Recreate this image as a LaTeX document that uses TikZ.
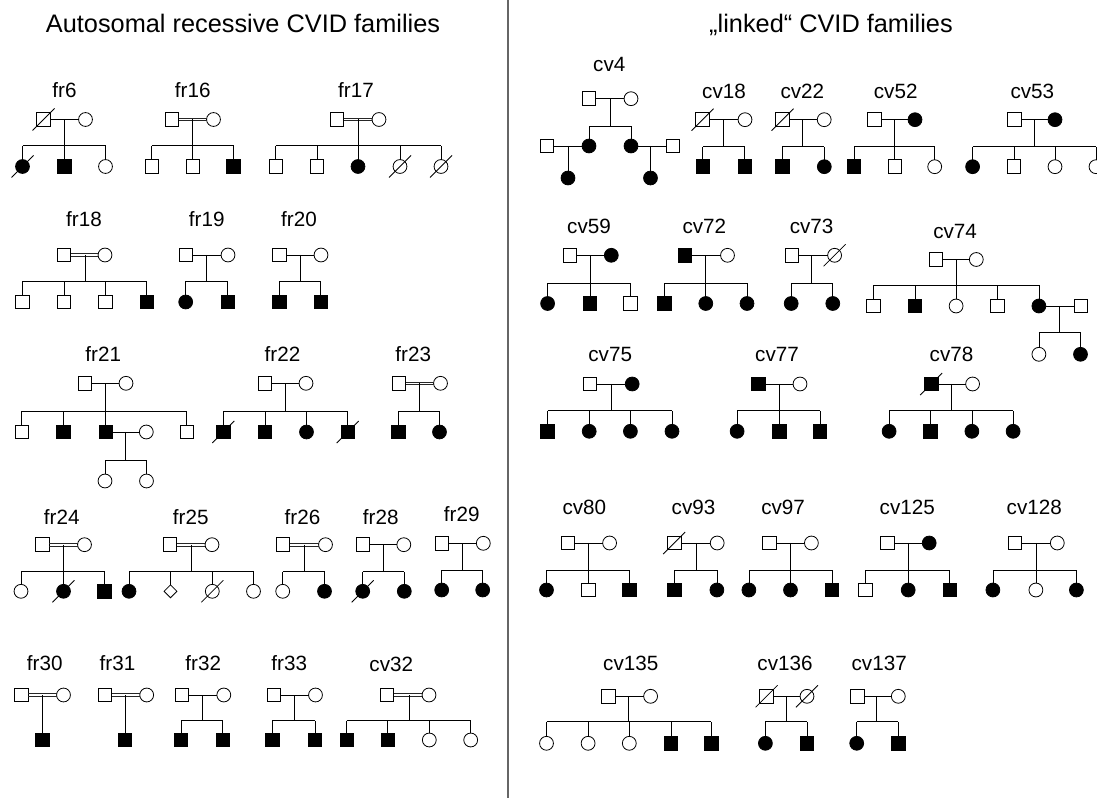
\documentclass[tikz,border=0pt]{standalone}
\usepackage{fontspec}
\setmainfont{Liberation Sans}
\usetikzlibrary{shapes.geometric}
\newcommand\labfont{\fontsize{15.5}{18}\selectfont}
\newcommand\ttlfont{\fontsize{19}{23}\selectfont}
\tikzset{
  sym/.style={draw=black, line width=0.6pt, inner sep=0pt, outer sep=0pt},
  M/.style={sym, rectangle, minimum size=10.2pt},
  MA/.style={M, fill=black},
  F/.style={sym, circle, minimum size=10.4pt},
  FA/.style={F, fill=black},
  U/.style={sym, diamond, minimum size=9.6pt},
  rel/.style={draw=black, line width=0.6pt},
  consline/.style={draw=black!85, line width=0.6pt},
  decl/.style={draw=black, line width=0.6pt},
  lab/.style={font=\labfont, anchor=base, inner sep=0pt},
  ttl/.style={font=\ttlfont, anchor=base, inner sep=0pt},
  divider/.style={draw=black!60, line width=1pt}
}
% marriage lines: single and consanguineous (double)
\newcommand\pmarryrel[1]{\draw[rel] (#1f) -- (#1m);}
\newcommand\pmarrycons[1]{%
  \draw[consline] ([yshift=1pt]#1f.east) -- ([yshift=1pt]#1m.west);
  \draw[consline] ([yshift=-1pt]#1f.east) -- ([yshift=-1pt]#1m.west);
}
% #1 id, #2 father style, #3 father x, #4 mother style, #5 mother x, #6 y, #7 rel|cons, #8 descent x
\newcommand\pcouple[8]{%
  \node[#2] (#1f) at (#3,#6) {};
  \node[#4] (#1m) at (#5,#6) {};
  \coordinate (#1d) at (#8,#6);
  \csname pmarry#7\endcsname{#1}%
}
% #1 id, #2 descent x, #3 sibship y
\newcommand\psibs[3]{%
  \coordinate (#1s) at (#2,#3);
  \draw[rel] (#1d) -- (#1s);
}
% #1 id, #2 number, #3 style, #4 x, #5 y
\newcommand\pkid[5]{%
  \node[#3] (#1c#2) at (#4,#5) {};
  \draw[rel] (#1c#2) -- (#1c#2 |- #1s);
}
\newcommand\pline[3]{\draw[rel] (#1c#2 |- #1s) -- (#1c#3 |- #1s);}
\newcommand\pdead[1]{\draw[decl] (#1.center) ++(-11,11) -- ++(22,-22);}
\begin{document}
\begin{tikzpicture}[x=0.75pt, y=-0.75pt]
\path[use as bounding box, fill=white] (0,0) rectangle (1097,798);
\clip (0,0) rectangle (1097,798);

% titles and divider
\node[ttl] (t1) at (243,32.3) {Autosomal recessive CVID families};
\node[ttl] (t2) at (831,32.3) {„linked“ CVID families};
\coordinate (dv1) at (508,0);
\coordinate (dv2) at (508,798);
\draw[divider] (dv1) -- (dv2);

% ================= LEFT =================
% ---- row 1
\node[lab] (fr6l) at (64.5,98) {fr6};
\pcouple{fr6}{M}{43.5}{F}{85.5}{119.5}{rel}{64.3}
\pdead{fr6f}
\psibs{fr6}{64.3}{145.7}
\pkid{fr6}{1}{FA}{22.5}{166.5}\pdead{fr6c1}
\pkid{fr6}{2}{MA}{64.3}{166.5}
\pkid{fr6}{3}{F}{105.5}{166.5}
\pline{fr6}{1}{3}

\node[lab] (fr16l) at (192.8,98) {fr16};
\pcouple{fr16}{M}{172}{F}{213.5}{119.5}{cons}{192.7}
\psibs{fr16}{192.7}{145.7}
\pkid{fr16}{1}{M}{151.7}{166.5}
\pkid{fr16}{2}{M}{192.7}{166.5}
\pkid{fr16}{3}{MA}{233.5}{166.5}
\pline{fr16}{1}{3}

\node[lab] (fr17l) at (356,98) {fr17};
\pcouple{fr17}{M}{337}{F}{379}{119.5}{cons}{358}
\psibs{fr17}{358}{145.7}
\pkid{fr17}{1}{M}{275.7}{166.5}
\pkid{fr17}{2}{M}{317}{166.5}
\pkid{fr17}{3}{FA}{358}{166.5}
\pkid{fr17}{4}{F}{400}{166.5}\pdead{fr17c4}
\pkid{fr17}{5}{F}{441}{166.5}\pdead{fr17c5}
\pline{fr17}{1}{5}

% ---- row 2
\node[lab] (fr18l) at (84,227) {fr18};
\pcouple{fr18}{M}{64}{F}{105}{255}{cons}{85}
\psibs{fr18}{85}{281}
\pkid{fr18}{1}{M}{22.5}{302}
\pkid{fr18}{2}{M}{64}{302}
\pkid{fr18}{3}{M}{105.5}{302}
\pkid{fr18}{4}{MA}{146.7}{302}
\pline{fr18}{1}{4}

\node[lab] (fr19l) at (206.7,227) {fr19};
\pcouple{fr19}{M}{186}{F}{228}{255}{rel}{206.7}
\psibs{fr19}{206.7}{281}
\pkid{fr19}{1}{FA}{185.7}{302}
\pkid{fr19}{2}{MA}{227.7}{302}
\pline{fr19}{1}{2}

\node[lab] (fr20l) at (299,227) {fr20};
\pcouple{fr20}{M}{279.5}{F}{321}{255}{rel}{300}
\psibs{fr20}{300}{281}
\pkid{fr20}{1}{MA}{279.5}{302}
\pkid{fr20}{2}{MA}{320.7}{302}
\pline{fr20}{1}{2}

% ---- row 3
\node[lab] (fr21l) at (103.3,361.7) {fr21};
\pcouple{fr21}{M}{84.7}{F}{126}{383.3}{rel}{105.7}
\psibs{fr21}{105.7}{411}
\pkid{fr21}{1}{M}{21.7}{432}
\pkid{fr21}{2}{MA}{63.3}{432}
\pkid{fr21}{3}{MA}{105.7}{432}
\pkid{fr21}{4}{M}{186.7}{432}
\pline{fr21}{1}{4}
\node[F] (fr21w) at (146.3,432) {};
\draw[rel] (fr21c3) -- (fr21w);
\coordinate (fr21gd) at (125.5,432);
\psibs{fr21g}{125.5}{460}
\pkid{fr21g}{1}{F}{105}{481}
\pkid{fr21g}{2}{F}{146.5}{481}
\pline{fr21g}{1}{2}

\node[lab] (fr22l) at (282.5,361.7) {fr22};
\pcouple{fr22}{M}{265}{F}{306}{383.3}{rel}{285.7}
\psibs{fr22}{285.7}{411}
\pkid{fr22}{1}{MA}{223.3}{432}\pdead{fr22c1}
\pkid{fr22}{2}{MA}{265}{432}
\pkid{fr22}{3}{FA}{306.5}{432}
\pkid{fr22}{4}{MA}{347.7}{432}\pdead{fr22c4}
\pline{fr22}{1}{4}

\node[lab] (fr23l) at (413.3,361.7) {fr23};
\pcouple{fr23}{M}{399}{F}{440.5}{383.3}{cons}{419.5}
\psibs{fr23}{419.5}{411}
\pkid{fr23}{1}{MA}{398.5}{432}
\pkid{fr23}{2}{FA}{439.5}{432}
\pline{fr23}{1}{2}

% ---- row 4
\node[lab] (fr24l) at (61.7,524.3) {fr24};
\pcouple{fr24}{M}{42.5}{F}{84.5}{544.7}{cons}{63.5}
\psibs{fr24}{63.5}{571.7}
\pkid{fr24}{1}{F}{21}{591.3}
\pkid{fr24}{2}{FA}{63.5}{591.3}\pdead{fr24c2}
\pkid{fr24}{3}{MA}{104.5}{591.3}
\pline{fr24}{1}{3}

\node[lab] (fr25l) at (190.8,524.3) {fr25};
\pcouple{fr25}{M}{170}{F}{212}{544.7}{cons}{191}
\psibs{fr25}{191}{571.7}
\pkid{fr25}{1}{FA}{129}{591.3}
\pkid{fr25}{2}{U}{170.5}{591.3}
\pkid{fr25}{3}{F}{212.3}{591.3}\pdead{fr25c3}
\pkid{fr25}{4}{F}{253.5}{591.3}
\pline{fr25}{1}{4}

\node[lab] (fr26l) at (302.5,524.3) {fr26};
\pcouple{fr26}{M}{283}{F}{325.5}{544.7}{cons}{304}
\psibs{fr26}{304}{571.7}
\pkid{fr26}{1}{F}{282.7}{591.3}
\pkid{fr26}{2}{FA}{324.5}{591.3}
\pline{fr26}{1}{2}

\node[lab] (fr28l) at (380.8,524.3) {fr28};
\pcouple{fr28}{M}{362.8}{F}{403.8}{544.7}{rel}{383.3}
\psibs{fr28}{383.3}{571.7}
\pkid{fr28}{1}{FA}{362.7}{591.3}\pdead{fr28c1}
\pkid{fr28}{2}{FA}{404.3}{591.3}
\pline{fr28}{1}{2}

\node[lab] (fr29l) at (461.7,521.7) {fr29};
\pcouple{fr29}{M}{441.7}{F}{483.3}{543.3}{rel}{462.3}
\psibs{fr29}{462.3}{570}
\pkid{fr29}{1}{FA}{441.7}{590}
\pkid{fr29}{2}{FA}{482.7}{590}
\pline{fr29}{1}{2}

% ---- row 5
\node[lab] (fr30l) at (44.7,670.7) {fr30};
\pcouple{fr30}{M}{21.3}{F}{63.5}{695}{cons}{42.3}
\node[MA] (fr30c1) at (42.3,740) {};
\draw[rel] (fr30d) -- (fr30c1);

\node[lab] (fr31l) at (117.5,670.7) {fr31};
\pcouple{fr31}{M}{104.7}{F}{146.7}{695}{cons}{125}
\node[MA] (fr31c1) at (125,740) {};
\draw[rel] (fr31d) -- (fr31c1);

\node[lab] (fr32l) at (203.3,670.7) {fr32};
\pcouple{fr32}{M}{182}{F}{223.8}{695}{rel}{202.5}
\psibs{fr32}{202.5}{720.7}
\pkid{fr32}{1}{MA}{181}{740}
\pkid{fr32}{2}{MA}{222.7}{740}
\pline{fr32}{1}{2}

\node[lab] (fr33l) at (289.2,670.7) {fr33};
\pcouple{fr33}{M}{273.8}{F}{315.5}{695}{rel}{294}
\psibs{fr33}{294}{720.7}
\pkid{fr33}{1}{MA}{272.3}{740}
\pkid{fr33}{2}{MA}{315}{740}
\pline{fr33}{1}{2}

\node[lab] (cv32l) at (391.3,671.7) {cv32};
\pcouple{cv32}{M}{387}{F}{429}{695}{cons}{409}
\psibs{cv32}{409}{720.7}
\pkid{cv32}{1}{MA}{346.7}{740}
\pkid{cv32}{2}{MA}{387.7}{740}
\pkid{cv32}{3}{F}{429.3}{740}
\pkid{cv32}{4}{F}{470.7}{740}
\pline{cv32}{1}{4}

% ================= RIGHT =================
% ---- row 1
\node[lab] (cv4l) at (609.3,71.7) {cv4};
\pcouple{cv4}{M}{589}{F}{631}{98.7}{rel}{610}
\psibs{cv4}{610}{126}
\pkid{cv4}{1}{FA}{589}{146}
\pkid{cv4}{2}{FA}{631}{146}
\pline{cv4}{1}{2}
\node[M] (cv4w1) at (547,146) {};
\draw[rel] (cv4w1) -- (cv4c1);
\coordinate (cv4g1) at (568,146);
\node[FA] (cv4k1) at (568,178) {};
\draw[rel] (cv4g1) -- (cv4k1);
\node[M] (cv4w2) at (673,146) {};
\draw[rel] (cv4c2) -- (cv4w2);
\coordinate (cv4g2) at (650.5,146);
\node[FA] (cv4k2) at (650.5,178) {};
\draw[rel] (cv4g2) -- (cv4k2);

\node[lab] (cv18l) at (724,98.3) {cv18};
\pcouple{cv18}{M}{702.5}{F}{745}{119.7}{rel}{723.7}
\pdead{cv18f}
\psibs{cv18}{723.7}{146.7}
\pkid{cv18}{1}{MA}{702.8}{166.7}
\pkid{cv18}{2}{MA}{744.7}{166.7}
\pline{cv18}{1}{2}

\node[lab] (cv22l) at (802.4,98.3) {cv22};
\pcouple{cv22}{M}{782.5}{F}{824.2}{119.7}{rel}{802.6}
\pdead{cv22f}
\psibs{cv22}{802.6}{146.7}
\pkid{cv22}{1}{MA}{782.2}{166.7}
\pkid{cv22}{2}{FA}{824.3}{166.7}
\pline{cv22}{1}{2}

\node[lab] (cv52l) at (895.7,98.3) {cv52};
\pcouple{cv52}{M}{874.5}{FA}{915}{119.7}{rel}{894.7}
\psibs{cv52}{894.7}{146.7}
\pkid{cv52}{1}{MA}{854}{166.7}
\pkid{cv52}{2}{M}{894.7}{166.7}
\pkid{cv52}{3}{F}{934.7}{166.7}
\pline{cv52}{1}{3}

\node[lab] (cv53l) at (1032.4,98.3) {cv53};
\pcouple{cv53}{M}{1014.5}{FA}{1055}{119.7}{rel}{1034.5}
\psibs{cv53}{1034.5}{146.7}
\pkid{cv53}{1}{FA}{972.6}{166.7}
\pkid{cv53}{2}{M}{1014}{166.7}
\pkid{cv53}{3}{F}{1055}{166.7}
\pkid{cv53}{4}{F}{1096}{166.7}
\pline{cv53}{1}{4}

% ---- row 2
\node[lab] (cv59l) at (589,233.3) {cv59};
\pcouple{cv59}{M}{569.7}{FA}{611.3}{255.3}{rel}{590}
\psibs{cv59}{590}{283.3}
\pkid{cv59}{1}{FA}{547.6}{303.5}
\pkid{cv59}{2}{MA}{590}{303.5}
\pkid{cv59}{3}{M}{630.4}{303.5}
\pline{cv59}{1}{3}

\node[lab] (cv72l) at (704.4,233.3) {cv72};
\pcouple{cv72}{MA}{684.9}{F}{727.5}{255.3}{rel}{705.8}
\psibs{cv72}{705.8}{283.3}
\pkid{cv72}{1}{MA}{664.3}{303.5}
\pkid{cv72}{2}{FA}{705.8}{303.5}
\pkid{cv72}{3}{FA}{747}{303.5}
\pline{cv72}{1}{3}

\node[lab] (cv73l) at (811.6,233.3) {cv73};
\pcouple{cv73}{M}{791.9}{F}{834.6}{255.3}{rel}{811.8}
\pdead{cv73m}
\psibs{cv73}{811.8}{283.3}
\pkid{cv73}{1}{FA}{791.2}{303.5}
\pkid{cv73}{2}{FA}{832.8}{303.5}
\pline{cv73}{1}{2}

\node[lab] (cv74l) at (955.1,238.3) {cv74};
\pcouple{cv74}{M}{935.8}{F}{976.3}{259.5}{rel}{956.1}
\psibs{cv74}{956.1}{285}
\pkid{cv74}{1}{M}{873.3}{306}
\pkid{cv74}{2}{MA}{914.9}{306}
\pkid{cv74}{3}{F}{956.1}{306}
\pkid{cv74}{4}{M}{997.6}{306}
\pkid{cv74}{5}{FA}{1038.9}{306}
\pline{cv74}{1}{5}
\node[M] (cv74w) at (1081,306) {};
\draw[rel] (cv74c5) -- (cv74w);
\coordinate (cv74gd) at (1059.8,306);
\psibs{cv74g}{1059.8}{332.7}
\pkid{cv74g}{1}{F}{1038.9}{354.3}
\pkid{cv74g}{2}{FA}{1080.5}{354.3}
\pline{cv74g}{1}{2}

% ---- row 3
\node[lab] (cv75l) at (610.2,361.7) {cv75};
\pcouple{cv75}{M}{589.9}{FA}{632.2}{384}{rel}{610.9}
\psibs{cv75}{610.9}{410.7}
\pkid{cv75}{1}{MA}{547.6}{431.3}
\pkid{cv75}{2}{FA}{589.2}{431.3}
\pkid{cv75}{3}{FA}{630.4}{431.3}
\pkid{cv75}{4}{FA}{672}{431.3}
\pline{cv75}{1}{4}

\node[lab] (cv77l) at (777,361.7) {cv77};
\pcouple{cv77}{MA}{758.3}{F}{800}{384}{rel}{779.4}
\psibs{cv77}{779.4}{410.7}
\pkid{cv77}{1}{FA}{737.1}{431.3}
\pkid{cv77}{2}{MA}{779.4}{431.3}
\pkid{cv77}{3}{MA}{819.9}{431.3}
\pline{cv77}{1}{3}

\node[lab] (cv78l) at (951.5,361.7) {cv78};
\pcouple{cv78}{MA}{931.2}{F}{972.6}{384}{rel}{951.6}
\pdead{cv78f}
\psibs{cv78}{951.6}{410.7}
\pkid{cv78}{1}{FA}{889.1}{431.3}
\pkid{cv78}{2}{MA}{930.3}{431.3}
\pkid{cv78}{3}{FA}{971.9}{431.3}
\pkid{cv78}{4}{FA}{1013.1}{431.3}
\pline{cv78}{1}{4}

% ---- row 4
\node[lab] (cv80l) at (584.4,515) {cv80};
\pcouple{cv80}{M}{567.8}{F}{609.6}{543}{rel}{588.1}
\psibs{cv80}{588.1}{570}
\pkid{cv80}{1}{FA}{546.5}{590}
\pkid{cv80}{2}{M}{588.1}{590}
\pkid{cv80}{3}{MA}{629.3}{590}
\pline{cv80}{1}{3}

\node[lab] (cv93l) at (693.5,515) {cv93};
\pcouple{cv93}{M}{674.2}{F}{717.2}{543}{rel}{695.9}
\pdead{cv93f}
\psibs{cv93}{695.9}{570}
\pkid{cv93}{1}{MA}{674.6}{590}
\pkid{cv93}{2}{FA}{716.9}{590}
\pline{cv93}{1}{2}

\node[lab] (cv97l) at (783.1,515) {cv97};
\pcouple{cv97}{M}{769.5}{F}{811.4}{543}{rel}{790.5}
\psibs{cv97}{790.5}{570}
\pkid{cv97}{1}{FA}{748.9}{590}
\pkid{cv97}{2}{FA}{790.5}{590}
\pkid{cv97}{3}{MA}{832}{590}
\pline{cv97}{1}{3}

\node[lab] (cv125l) at (907.3,515) {cv125};
\pcouple{cv125}{M}{887.3}{FA}{929.2}{543}{rel}{908.2}
\psibs{cv125}{908.2}{570}
\pkid{cv125}{1}{M}{865.2}{590}
\pkid{cv125}{2}{FA}{908.2}{590}
\pkid{cv125}{3}{MA}{949.8}{590}
\pline{cv125}{1}{3}

\node[lab] (cv128l) at (1034.3,515) {cv128};
\pcouple{cv128}{M}{1014.9}{F}{1057.3}{543}{rel}{1035.9}
\psibs{cv128}{1035.9}{570}
\pkid{cv128}{1}{FA}{992.9}{590}
\pkid{cv128}{2}{F}{1035.9}{590}
\pkid{cv128}{3}{FA}{1076.4}{590}
\pline{cv128}{1}{3}

% ---- row 5
\node[lab] (cv135l) at (630.8,670) {cv135};
\pcouple{cv135}{M}{608.3}{F}{650.6}{696.3}{rel}{628.6}
\psibs{cv135}{628.6}{721.7}
\pkid{cv135}{1}{F}{546.5}{743.3}
\pkid{cv135}{2}{F}{588.1}{743.3}
\pkid{cv135}{3}{F}{629.3}{743.3}
\pkid{cv135}{4}{MA}{670.9}{743.3}
\pkid{cv135}{5}{MA}{711.4}{743.3}
\pline{cv135}{1}{5}

\node[lab] (cv136l) at (785,670) {cv136};
\pcouple{cv136}{M}{766.6}{F}{807}{696.3}{rel}{786.8}
\pdead{cv136f}\pdead{cv136m}
\psibs{cv136}{786.8}{721.7}
\pkid{cv136}{1}{FA}{765.4}{743.3}
\pkid{cv136}{2}{MA}{807}{743.3}
\pline{cv136}{1}{2}

\node[lab] (cv137l) at (879.2,670) {cv137};
\pcouple{cv137}{M}{857.1}{F}{898.3}{696.3}{rel}{876.2}
\psibs{cv137}{876.2}{721.7}
\pkid{cv137}{1}{FA}{856.7}{743.3}
\pkid{cv137}{2}{MA}{898.3}{743.3}
\pline{cv137}{1}{2}
\end{tikzpicture}
\end{document}
